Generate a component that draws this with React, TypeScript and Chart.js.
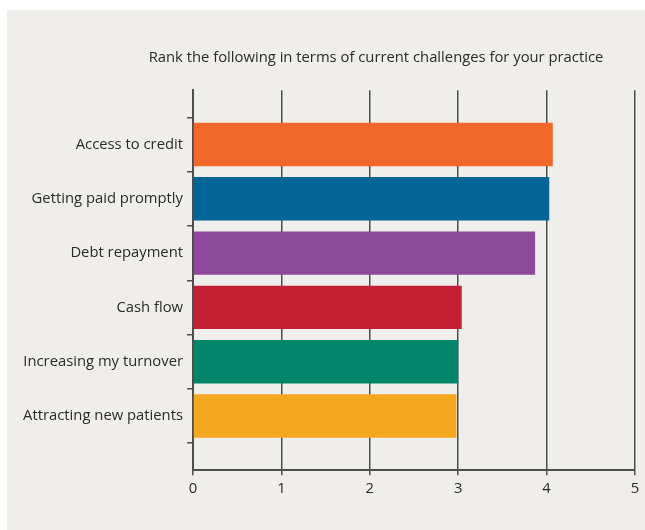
import React, { useEffect, useRef } from "react";
import { Chart, registerables } from "chart.js";

Chart.register(...registerables);

const titleText = "Rank the following in terms of current challenges for your practice";
const categories = [
  "Access to credit",
  "Getting paid promptly",
  "Debt repayment",
  "Cash flow",
  "Increasing my turnover",
  "Attracting new patients",
];
const values = [4.07, 4.03, 3.87, 3.04, 3.0, 2.98];
const barColors = ["#f2682b", "#036597", "#8e4a9a", "#c42034", "#00856a", "#f5a81f"];
const xTicks = [0, 1, 2, 3, 4, 5];

const FONT = "'Open Sans'";
const FONT_SIZE = 14.8;
const TEXT = "#2a2a2a";
const GRID = "#4d4d4d";
const TITLE_SHIFT = 50;

const titleShift = {
  id: "titleShift",
  afterLayout(chart: any) {
    const t = chart.titleBlock;
    if (t) {
      t.left += TITLE_SHIFT;
      t.right += TITLE_SHIFT;
    }
  },
};

export default function App() {
  const ref = useRef<HTMLCanvasElement>(null);
  useEffect(() => {
    if (!ref.current) return;
    const labels = ["", ...categories, ""];
    const data = [null, ...values, null];
    const colors = ["transparent", ...barColors, "transparent"];
    const chart = new Chart(ref.current, {
      type: "bar",
      data: {
        labels,
        datasets: [
          {
            data,
            backgroundColor: colors,
            borderWidth: 0,
            categoryPercentage: 1,
            barPercentage: 0.8,
          },
        ],
      },
      plugins: [titleShift],
      options: {
        indexAxis: "y",
        responsive: false,
        animation: false,
        layout: { padding: { left: 10, right: 10, top: 31, bottom: 27 } },
        plugins: {
          legend: { display: false },
          tooltip: { enabled: false },
          title: {
            display: true,
            text: titleText,
            color: TEXT,
            font: { family: FONT, size: FONT_SIZE, weight: "normal" },
            padding: { top: 8, bottom: 23.5 },
          },
        },
        scales: {
          x: {
            type: "linear",
            min: 0,
            max: 5,
            afterBuildTicks: (s: any) => {
              s.ticks = xTicks.map((v) => ({ value: v }));
            },
            grid: {
              color: GRID,
              lineWidth: 1.5,
              tickLength: 5,
              drawTicks: true,
            },
            border: { display: true, color: GRID, width: 2 },
            ticks: {
              color: TEXT,
              padding: 5,
              font: { family: FONT, size: FONT_SIZE },
            },
          },
          y: {
            type: "category",
            offset: false,
            afterFit: (s: any) => {
              s.width = 176;
            },
            grid: {
              drawOnChartArea: false,
              drawTicks: true,
              tickLength: 6,
              color: GRID,
              lineWidth: 1.5,
            },
            border: { display: true, color: GRID, width: 2 },
            ticks: {
              color: TEXT,
              padding: 4,
              autoSkip: false,
              font: { family: FONT, size: FONT_SIZE },
            },
          },
        },
      },
    });
    return () => chart.destroy();
  }, []);
  return (
    <div
      style={{
        position: "absolute",
        left: 7,
        top: 10,
        width: 638,
        height: 520,
        background: "#efeeea",
      }}
    >
      <canvas ref={ref} width={638} height={520} style={{ display: "block" }} />
    </div>
  );
}
